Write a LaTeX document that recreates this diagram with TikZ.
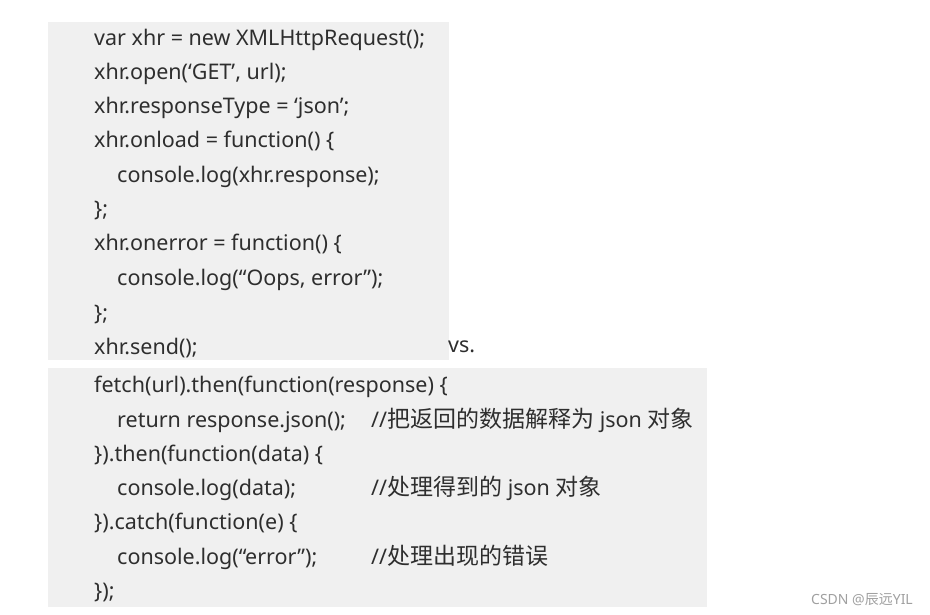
\documentclass[tikz,border=0pt]{standalone}
\usepackage{fontspec}
\setmainfont{Noto Sans}
\newfontfamily\cjkfont{Noto Sans CJK SC}
\definecolor{codebg}{HTML}{F0F0F0}
\definecolor{codetxt}{HTML}{2E2E2E}
\definecolor{marktxt}{HTML}{A0A0A0}
\newcommand\zh[1]{{\cjkfont\fontsize{23}{23}\selectfont #1}}
\tikzset{
  code/.style={anchor=base west,inner sep=0pt,text=codetxt,font=\fontsize{21.5}{21.5}\selectfont},
  note/.style={anchor=base west,inner sep=0pt,text=marktxt,font=\fontsize{14}{14}\selectfont}
}

\begin{document}
\begin{tikzpicture}[x=1pt,y=-1pt]
  \useasboundingbox (0,0) rectangle (930,615);
  % the two grey panels
  \fill[codebg] (48,22) rectangle (449,360);
  \fill[codebg] (48,368) rectangle (707,607);
  % XMLHttpRequest version
  \foreach \i/\x/\y/\t in {1/94/46/{var xhr = new XMLHttpRequest();},
      2/94/80/{xhr.open(`GET', url);},
      3/94/114/{xhr.responseType = `json';},
      4/94/148/{xhr.onload = function() \{},
      5/117/183/{console.log(xhr.response);},
      6/94/217/{\};},
      7/94/251/{xhr.onerror = function() \{},
      8/117/285/{console.log(``Oops, error'');},
      9/94/320/{\};},
      10/94/354/{xhr.send();}}
    \node[code] (a\i) at (\x,\y) {\t};
  \node[code] (vs) at (448,352) {vs.};
  % fetch version
  \foreach \i/\x/\y/\t in {1/94/392/{fetch(url).then(function(response) \{},
      2/117/427/{return response.json();},
      3/94/461/{\}).then(function(data) \{},
      4/117/495/{console.log(data);},
      5/94/529/{\}).catch(function(e) \{},
      6/117/564/{console.log(``error'');},
      7/94/598/{\});}}
    \node[code] (b\i) at (\x,\y) {\t};
  \node[code] (c2) at (371,427) {//\zh{把返回的数据解释为} json \zh{对象}};
  \node[code] (c4) at (371,495) {//\zh{处理得到的} json \zh{对象}};
  \node[code] (c6) at (371,564) {//\zh{处理出现的错误}};
  \node[note] (mark) at (811,604) {CSDN @{\cjkfont 辰远}YIL};
\end{tikzpicture}
\end{document}
